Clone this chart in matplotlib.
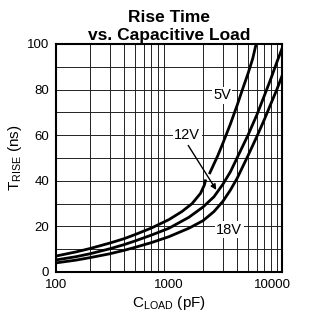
import matplotlib
matplotlib.use("Agg")
import matplotlib.pyplot as plt
import matplotlib.transforms as mtransforms

plt.rcParams["font.family"] = ["Liberation Sans", "DejaVu Sans"]
plt.rcParams["mathtext.fontset"] = "custom"
plt.rcParams["mathtext.rm"] = "Liberation Sans"

# ---- data ----
cap_5v_low = [100, 150, 200, 300, 400, 500, 700, 1000, 1300, 1600, 1900, 2050, 2100]
t_5v_low = [7, 8.8, 10.3, 12.7, 14.6, 16.4, 19.3, 23, 26.5, 30, 34.5, 38, 40]
cap_5v_high = [2300, 2700, 3000, 3500, 4000, 4500, 5000, 5500, 5900]
t_5v_high = [43.5, 51, 56.5, 65, 73, 80.5, 87, 93.5, 100]

cap_12v = [100, 150, 200, 300, 400, 500, 700, 1000, 1500, 2000, 2500, 3000,
           3500, 4000, 5000, 6000, 7000, 8000, 9000, 10000]
t_12v = [5.3, 6.7, 8, 10.2, 12, 13.6, 16.2, 19.2, 24, 28.5, 33, 38.5,
         44, 50, 60, 69, 77.5, 85, 92, 98]

cap_18v = [100, 150, 200, 300, 400, 500, 700, 1000, 1500, 2000, 2500, 3000,
           3500, 4000, 5000, 6000, 7000, 8000, 9000, 10000]
t_18v = [4, 5.2, 6.3, 8, 9.5, 10.8, 12.9, 15.5, 19.2, 22.5, 26.5, 31,
         36, 41, 51, 59.5, 67, 74, 80, 86]

x_ticks = [100, 1000, 10000]
x_tick_labels = ["100", "1000", "10000"]
y_ticks = [0, 20, 40, 60, 80, 100]

fig = plt.figure(figsize=(3.14, 3.19), dpi=100)
ax = fig.add_axes([56 / 314, 1 - 272 / 319, 226 / 314, 228 / 319])

# grid
x_grid = [m * d for d in (100, 1000) for m in range(2, 10)]
for xv in x_grid:
    ax.axvline(xv, color="#222222", lw=0.7, zorder=1)
for yv in range(10, 100, 10):
    ax.axhline(yv, color="#222222", lw=0.7, zorder=1)

lw = 2.0
ax.plot(cap_5v_low, t_5v_low, color="black", lw=lw, zorder=3)
ax.plot(cap_5v_high, t_5v_high, color="black", lw=lw, zorder=3)
ax.plot(cap_12v, t_12v, color="black", lw=lw, zorder=3)
ax.plot(cap_18v, t_18v, color="black", lw=lw, zorder=3)

box = dict(facecolor="white", edgecolor="none", pad=1.0)
ax.text(2950, 77.5, "5V", ha="center", va="center", fontsize=10.5, bbox=box, zorder=4)
ax.text(3400, 18.5, "18V", ha="center", va="center", fontsize=10.5, bbox=box, zorder=4)
ax.text(1450, 60, "12V", ha="center", va="center", fontsize=10.5, bbox=box, zorder=4)
ax.annotate("", xy=(2620, 36), xytext=(1480, 55.5),
            arrowprops=dict(arrowstyle="-|>", color="black", lw=1.0,
                            mutation_scale=8, shrinkA=0, shrinkB=0), zorder=4)

ax.set_xscale("log")
ax.set_xlim(100, 10000)
ax.set_ylim(0, 100)
ax.set_xticks(x_ticks)
ax.set_xticklabels(x_tick_labels)
ax.minorticks_off()
ax.set_yticks(y_ticks)
ax.tick_params(length=0, labelsize=9.5, pad=5)
# last x label sits a bit left of its tick in the reference
last = ax.get_xticklabels()[-1]
last.set_transform(last.get_transform() +
                   mtransforms.ScaledTranslation(-10 / 100, 0, fig.dpi_scale_trans))
for s in ax.spines.values():
    s.set_linewidth(1.5)

ax.set_xlabel(r"C$_{\mathrm{LOAD}}$ (pF)", fontsize=11, labelpad=2)
ax.set_ylabel(r"T$_{\mathrm{RISE}}$ (ns)", fontsize=11, labelpad=2)
ax.set_title("Rise Time\nvs. Capacitive Load", fontsize=12.5, fontweight="bold",
             pad=3, linespacing=1.25)

fig.savefig("out.png", dpi=100)
